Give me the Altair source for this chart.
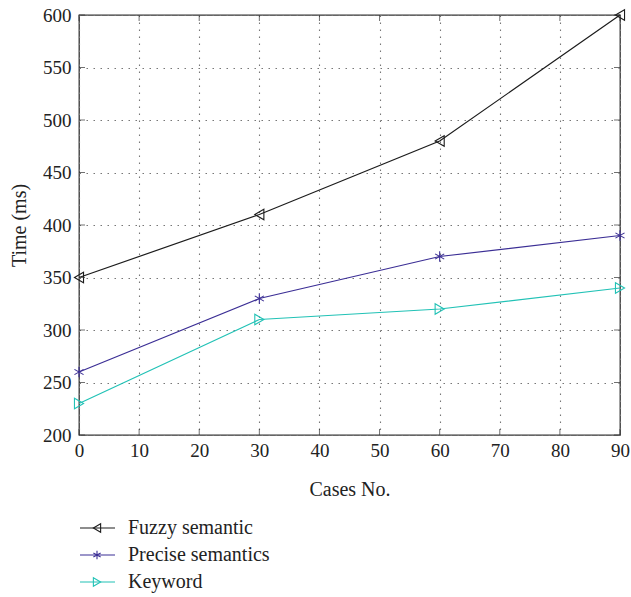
import altair as alt
import pandas as pd

cases = [0, 30, 60, 90]
series_names = ["Fuzzy semantic", "Precise semantics", "Keyword"]
fuzzy = [350, 410, 480, 600]
precise = [260, 330, 370, 390]
keyword = [230, 310, 320, 340]
x_ticks = [0, 10, 20, 30, 40, 50, 60, 70, 80, 90]
y_ticks = [200, 250, 300, 350, 400, 450, 500, 550, 600]

colors = ["#1c1c1c", "#3b2e95", "#22c2b6"]
ASTERISK = "M0,-1L0,1M-0.87,-0.5L0.87,0.5M-0.87,0.5L0.87,-0.5"
shapes = ["triangle-left", ASTERISK, "triangle-right"]
FONT = "Liberation Serif"

W, H = 541, 420

rows = []
for name, vals in zip(series_names, [fuzzy, precise, keyword]):
    for c, v in zip(cases, vals):
        rows.append({"case": c, "time": v, "series": name})
df = pd.DataFrame(rows)

xscale = alt.Scale(domain=[0, 90], nice=False, zero=False)
yscale = alt.Scale(domain=[200, 600], nice=False, zero=False)
cscale = alt.Scale(domain=series_names, range=colors)
sscale = alt.Scale(domain=series_names, range=shapes)

X = alt.X("case:Q", scale=xscale,
          axis=alt.Axis(values=x_ticks, title="Cases No.", grid=True, tickSize=0,
                        labelPadding=6, titlePadding=19, domain=False, labelFlush=False))
Y = alt.Y("time:Q", scale=yscale,
          axis=alt.Axis(values=y_ticks, title="Time (ms)", grid=True, tickSize=0,
                        labelPadding=8, titlePadding=13, domain=False, labelFlush=False))

base = alt.Chart(df)
lines = base.mark_line(strokeWidth=1.2).encode(
    x=X, y=Y,
    color=alt.Color("series:N", scale=cscale, legend=None),
    detail="series:N",
)
points = base.mark_point(filled=False, size=110, strokeWidth=1.1, opacity=1).encode(
    x=alt.X("case:Q", scale=xscale),
    y=alt.Y("time:Q", scale=yscale, axis=None),
    color=alt.Color("series:N", scale=cscale, legend=None),
    shape=alt.Shape("series:N", scale=sscale, legend=None),
)

# inward ticks on all four sides
xt = pd.DataFrame({"v": x_ticks})
yt = pd.DataFrame({"v": y_ticks})
tick_col = "#333333"
xt_bottom = alt.Chart(xt).mark_tick(size=6, thickness=1, color=tick_col).encode(
    x=alt.X("v:Q", scale=xscale), y=alt.value(H - 3))
xt_top = alt.Chart(xt).mark_tick(size=6, thickness=1, color=tick_col).encode(
    x=alt.X("v:Q", scale=xscale), y=alt.value(3))
yt_left = alt.Chart(yt).mark_tick(size=6, thickness=1, color=tick_col).encode(
    y=alt.Y("v:Q", scale=yscale, axis=None), x=alt.value(3))
yt_right = alt.Chart(yt).mark_tick(size=6, thickness=1, color=tick_col).encode(
    y=alt.Y("v:Q", scale=yscale, axis=None), x=alt.value(W - 3))

# legend below the chart
leg = pd.DataFrame({"series": series_names})
ly = alt.Y("series:N", scale=alt.Scale(type="point", domain=series_names,
                                       range=[513, 567], padding=0), axis=None)
leg_rule = alt.Chart(leg).mark_rule(strokeWidth=1.2).encode(
    x=alt.value(1), x2=alt.value(36), y=ly,
    color=alt.Color("series:N", scale=cscale, legend=None))
leg_pt = alt.Chart(leg).mark_point(filled=False, size=70, strokeWidth=1.1, opacity=1).encode(
    x=alt.value(18), y=ly,
    color=alt.Color("series:N", scale=cscale, legend=None),
    shape=alt.Shape("series:N", scale=sscale, legend=None))
leg_txt = alt.Chart(leg).mark_text(align="left", baseline="middle", font=FONT,
                                   fontSize=20, color="#222222").encode(
    x=alt.value(49), y=ly, text="series:N")

chart = alt.layer(
    lines, points, xt_bottom, xt_top, yt_left, yt_right, leg_rule, leg_pt, leg_txt
).resolve_scale(y="independent").properties(
    width=W, height=H,
    autosize=alt.AutoSizeParams(type="none"),
    padding={"left": 79, "top": 15, "right": 631 - 79 - W, "bottom": 162},
).configure_view(
    stroke="#333333", strokeWidth=1.3
).configure_axis(
    labelFont=FONT, titleFont=FONT, labelFontSize=19, titleFontSize=20,
    labelColor="#222222", titleColor="#222222", titleFontWeight="normal",
    gridColor="#777777", gridDash=[1.5, 5.5], gridWidth=1.1,
)

chart.save("out.html", embed_options={"renderer": "svg", "actions": False})
